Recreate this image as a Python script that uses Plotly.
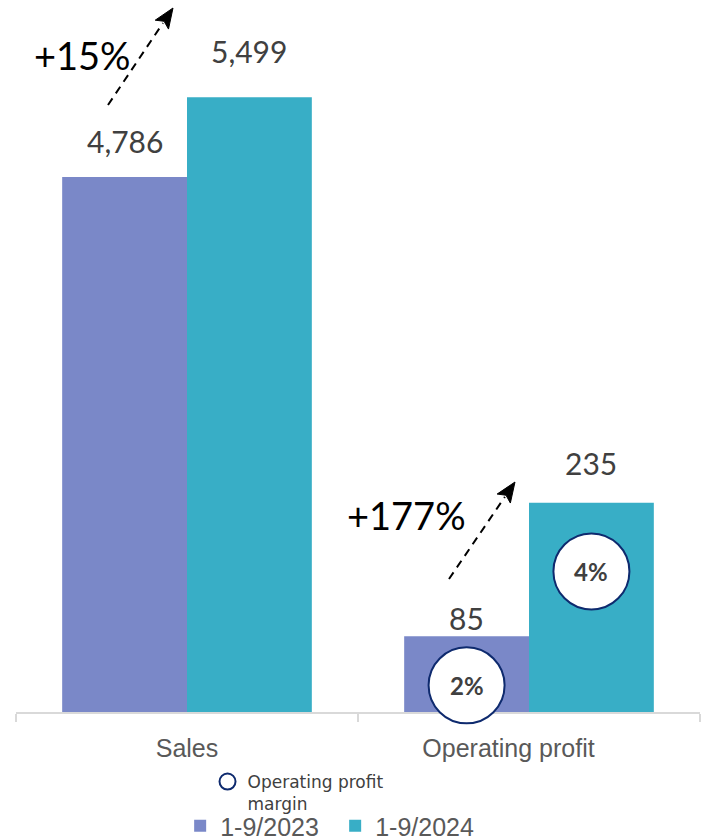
import plotly.graph_objects as go

# ---- data ----
categories = ["Sales", "Operating profit"]
series_names = ["1-9/2023", "1-9/2024"]
sales = [4786, 5499]
op_profit = [85, 235]
margin_labels = ["2%", "4%"]
growth_labels = ["+15%", "+177%"]

# ---- styling / layout ----
W, H = 705, 839
M_L, M_R, M_T, M_B = 16, 5, 0, 127
PLOT_W = W - M_L - M_R
PLOT_H = H - M_T - M_B
colors = ["#7A88C8", "#38AEC6"]
BARGAP = 0.27
half = (1 - BARGAP) / 4           # offset of each bar centre inside a group
SALES_TOP = 6370                  # primary axis ceiling
OP_TOP = 800                      # secondary axis ceiling
circle_y = [30, 158]              # vertical anchor of margin badges (secondary units)
value_lift = [[36, 46], [18, 40]] # px from bar top to value label centre
label_pos = [0, 0.94]             # category label anchors along the x axis
NAVY = "#0E2A6E"
VALUE_FONT = dict(family="Lato, Arial, sans-serif", size=30, color="#404040")
GROWTH_FONT = dict(family="Lato, Arial, sans-serif", size=38, color="#000000")


def px_to_paper(px, py):
    return (px - M_L) / PLOT_W, (M_T + PLOT_H - py) / PLOT_H


fig = go.Figure()

for i, name in enumerate(series_names):
    fig.add_trace(go.Bar(
        x=[categories[0]], y=[sales[i]], name=name, marker_color=colors[i],
        marker_line_width=0, offsetgroup=str(i), legendgroup=name,
        yaxis="y", legend="legend", hoverinfo="skip",
    ))
    fig.add_trace(go.Bar(
        x=[categories[1]], y=[op_profit[i]], name=name, marker_color=colors[i],
        marker_line_width=0, offsetgroup=str(i), legendgroup=name,
        showlegend=False, yaxis="y2", hoverinfo="skip",
    ))

# operating profit margin badges
for i in range(2):
    fig.add_trace(go.Scatter(
        x=[categories[1]], y=[circle_y[i]], mode="markers",
        marker=dict(size=76, color="white", line=dict(color=NAVY, width=2)),
        offsetgroup=str(i), yaxis="y2", cliponaxis=False,
        name="Operating profit<br>margin", showlegend=(i == 0),
        legend="legend2", hoverinfo="skip",
    ))
    fig.add_annotation(
        x=1 + (2 * i - 1) * half, y=circle_y[i], xref="x", yref="y2",
        text=f"<b>{margin_labels[i]}</b>", showarrow=False,
        xanchor="center", yanchor="middle",
        font=dict(family="Lato, Arial, sans-serif", size=24, color="#404040"),
    )

# anchor trace for the category-label axis (draws nothing)
fig.add_trace(go.Scatter(
    x=label_pos, y=[0, 0], xaxis="x2", yaxis="y", mode="markers",
    marker=dict(opacity=0, size=1), showlegend=False, hoverinfo="skip",
))

# value labels above bars
for g, (vals, yref) in enumerate([(sales, "y"), (op_profit, "y2")]):
    for i, v in enumerate(vals):
        fig.add_annotation(
            x=g + (2 * i - 1) * half, y=v, xref="x", yref=yref,
            text=f"{v:,}", showarrow=False, xanchor="center", yanchor="middle",
            yshift=value_lift[g][i], font=VALUE_FONT,
        )

# growth labels and dashed arrows
growth_pos = [(82, 55), (406, 515)]
arrows = [((108, 105), (173, 8)), ((449, 579), (515, 482))]
for (cx, cy), txt in zip(growth_pos, growth_labels):
    gx, gy = px_to_paper(cx, cy)
    fig.add_annotation(x=gx, y=gy, xref="paper", yref="paper", text=txt,
                       xanchor="center", yanchor="middle",
                       showarrow=False, font=GROWTH_FONT)

HEAD_LEN, HEAD_HALF = 20, 8
for (tx, ty), (hx, hy) in arrows:
    dx, dy = hx - tx, hy - ty
    L = (dx ** 2 + dy ** 2) ** 0.5
    ux, uy = dx / L, dy / L
    bx, by = hx - HEAD_LEN * ux, hy - HEAD_LEN * uy
    pxv, pyv = -uy, ux
    x0, y0 = px_to_paper(tx, ty)
    x1, y1 = px_to_paper(bx + ux * 2, by + uy * 2)
    fig.add_shape(type="line", xref="paper", yref="paper", x0=x0, y0=y0, x1=x1, y1=y1,
                  line=dict(color="black", width=2, dash="8px,6px"))
    pts = [(hx, hy), (bx + HEAD_HALF * pxv, by + HEAD_HALF * pyv),
           (bx + 4 * ux, by + 4 * uy), (bx - HEAD_HALF * pxv, by - HEAD_HALF * pyv)]
    path = "M " + " L ".join("{:.5f},{:.5f}".format(*px_to_paper(a, b)) for a, b in pts) + " Z"
    fig.add_shape(type="path", xref="paper", yref="paper", path=path,
                  fillcolor="black", line=dict(color="black", width=1))

fig.update_layout(
    width=W, height=H,
    margin=dict(l=M_L, r=M_R, t=M_T, b=M_B),
    paper_bgcolor="white", plot_bgcolor="white",
    barmode="group", bargap=BARGAP, bargroupgap=0,
    scattermode="group", scattergap=BARGAP,
    showlegend=True,
    xaxis=dict(
        type="category", categoryorder="array", categoryarray=categories,
        range=[-0.5, 1.5], showline=True, linecolor="#D9D9D9", linewidth=2,
        ticks="outside", tickson="boundaries", ticklen=8, tickwidth=2,
        tickcolor="#D9D9D9", showgrid=False, layer="below traces",
        showticklabels=False,
    ),
    # companion axis carrying the category labels
    xaxis2=dict(
        type="linear", overlaying="x", side="bottom", anchor="y",
        range=[-0.5, 1.5], tickmode="array", tickvals=label_pos, ticktext=categories,
        showline=False, showgrid=False, zeroline=False, ticks="",
        ticklabelstandoff=19,
        tickfont=dict(family="Liberation Sans, Arial, sans-serif", size=25, color="#595959"),
    ),
    yaxis=dict(range=[0, SALES_TOP], visible=False, showgrid=False),
    yaxis2=dict(range=[0, OP_TOP], visible=False, showgrid=False,
                overlaying="y", side="right"),
    legend=dict(
        orientation="h", x=0.24, xref="paper", y=1 - 803 / H, yref="container",
        xanchor="left", yanchor="top",
        font=dict(family="Liberation Sans, Arial, sans-serif", size=25, color="#595959"),
        bgcolor="rgba(0,0,0,0)", entrywidth=110, traceorder="normal",
    ),
    legend2=dict(
        orientation="h", x=0.28, xref="paper", y=1 - 764 / H, yref="container",
        xanchor="left", yanchor="top", valign="top",
        font=dict(family="DejaVu Sans, Verdana, sans-serif", size=17, color="#404040"),
        bgcolor="rgba(0,0,0,0)",
    ),
)

fig.write_html("out.html")
